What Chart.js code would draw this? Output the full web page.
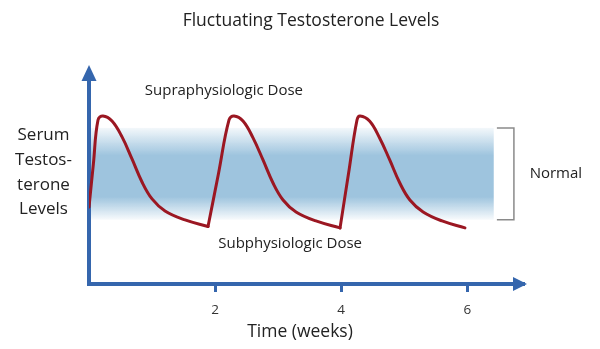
<!DOCTYPE html>
<html>
<head>
<meta charset="utf-8">
<script src="https://cdn.jsdelivr.net/npm/chart.js@4"></script>
<style>
  html, body { margin: 0; padding: 0; background: #fff; }
</style>
</head>
<body>
<canvas id="chart" width="600" height="349"></canvas>
<script>
// serum level over time, one array pair per injection cycle (weeks / arbitrary level)
const cycle1Weeks = [0, 0.07, 0.143, 0.222, 0.365, 0.524, 0.682, 0.841, 1.0, 1.206, 1.523, 1.888];
const cycle1Level = [37.7, 59.0, 80.4, 82.4, 79.9, 72.1, 61.3, 50.0, 41.7, 35.8, 31.4, 28.2];
const cycle2Weeks = [1.888, 2.055, 2.221, 2.3, 2.443, 2.602, 2.76, 2.919, 3.078, 3.284, 3.6, 3.982];
const cycle2Level = [28.2, 54.3, 80.4, 82.4, 79.9, 71.6, 60.8, 49.5, 41.2, 35.3, 30.9, 27.5];
const cycle3Weeks = [3.982, 4.116, 4.251, 4.3, 4.45, 4.61, 4.77, 4.93, 5.09, 5.30, 5.6, 5.964];
const cycle3Level = [27.5, 54.0, 80.4, 82.4, 79.9, 71.6, 60.8, 49.5, 41.2, 35.3, 30.9, 27.5];
const normalRange = [31.5, 76.5];
const xTicks = [2, 4, 6];

const FONT = "'Open Sans', 'Noto Sans', sans-serif";
const AXIS = '#3566ad';
const CURVE = '#9b1722';
const TEXT = '#222';

function pts(xs, ys) {
    return xs.map((x, i) => ({x: x, y: ys[i]}));
}

function cycle(xs, ys) {
    return {
        data: pts(xs, ys),
        borderColor: CURVE,
        borderWidth: 3,
        borderCapStyle: 'round',
        borderJoinStyle: 'round',
        pointRadius: 0,
        tension: 0.4,
        fill: false
    };
}

const extras = {
    id: 'extras',
    beforeDatasetsDraw(chart) {
        const {ctx, chartArea, scales: {x, y}} = chart;
        const top = y.getPixelForValue(normalRange[1]);
        const bot = y.getPixelForValue(normalRange[0]);
        const g = ctx.createLinearGradient(0, top, 0, bot);
        g.addColorStop(0, 'rgba(158,196,222,0.12)');
        g.addColorStop(0.3, 'rgba(158,196,222,1)');
        g.addColorStop(0.75, 'rgba(158,196,222,1)');
        g.addColorStop(1, 'rgba(158,196,222,0.08)');
        ctx.save();
        ctx.fillStyle = g;
        ctx.fillRect(chartArea.left + 2, top, x.getPixelForValue(6.42) - chartArea.left - 2, bot - top);
        ctx.restore();
    },
    afterDraw(chart) {
        const {ctx, chartArea, scales: {x, y}} = chart;
        ctx.save();

        // arrow heads
        ctx.fillStyle = AXIS;
        ctx.beginPath();
        ctx.moveTo(chartArea.left, chartArea.top - 15);
        ctx.lineTo(chartArea.left - 7.5, chartArea.top + 1);
        ctx.lineTo(chartArea.left + 7.5, chartArea.top + 1);
        ctx.closePath();
        ctx.fill();
        ctx.beginPath();
        ctx.moveTo(chartArea.right + 3, chartArea.bottom);
        ctx.lineTo(chartArea.right - 11, chartArea.bottom - 7);
        ctx.lineTo(chartArea.right - 11, chartArea.bottom + 7);
        ctx.closePath();
        ctx.fill();

        // bracket for normal range
        const bx1 = x.getPixelForValue(6.47), bx2 = x.getPixelForValue(6.74);
        const by1 = y.getPixelForValue(normalRange[1]), by2 = y.getPixelForValue(normalRange[0]);
        ctx.strokeStyle = '#8a8a8a';
        ctx.lineWidth = 1.5;
        ctx.beginPath();
        ctx.moveTo(bx1, by1);
        ctx.lineTo(bx2, by1);
        ctx.lineTo(bx2, by2);
        ctx.lineTo(bx1, by2);
        ctx.stroke();

        // labels
        ctx.fillStyle = TEXT;
        ctx.textBaseline = 'middle';
        ctx.textAlign = 'center';
        ctx.font = '17.5px ' + FONT;
        ctx.fillText('Fluctuating Testosterone Levels', 311, 21);
        ctx.font = '17.5px ' + FONT;
        ctx.fillText('Time (weeks)', 300, 332);

        ctx.font = '15px ' + FONT;
        ctx.fillText('Supraphysiologic Dose', x.getPixelForValue(2.14), y.getPixelForValue(94.6));
        ctx.fillText('Subphysiologic Dose', x.getPixelForValue(3.19), y.getPixelForValue(19.6));
        ctx.textAlign = 'left';
        ctx.fillText('Normal', x.getPixelForValue(6.99), y.getPixelForValue(53.9));

        ctx.font = '17px ' + FONT;
        ctx.textAlign = 'center';
        const yl = ['Serum', 'Testos-', 'terone', 'Levels'];
        const yv = [73, 60.8, 48.5, 36.8];
        yl.forEach((t, i) => ctx.fillText(t, chartArea.left / 2 - 1, y.getPixelForValue(yv[i])));
        ctx.restore();
    }
};

new Chart(document.getElementById('chart'), {
    type: 'line',
    data: {
        datasets: [
            cycle(cycle1Weeks, cycle1Level),
            cycle(cycle2Weeks, cycle2Level),
            cycle(cycle3Weeks, cycle3Level)
        ]
    },
    options: {
        responsive: false,
        animation: false,
        layout: {padding: {top: 80, right: 76, bottom: 0, left: 0}},
        plugins: {
            legend: {display: false},
            tooltip: {enabled: false}
        },
        scales: {
            x: {
                type: 'linear',
                min: 0,
                max: 6.9,
                afterBuildTicks: s => { s.ticks = xTicks.map(v => ({value: v})); },
                afterFit: s => { s.height = 65; },
                grid: {display: true, drawOnChartArea: false, drawTicks: true, tickLength: 8, tickWidth: 3, tickColor: AXIS},
                border: {display: true, color: AXIS, width: 4},
                ticks: {padding: 10, color: '#333', font: {family: FONT, size: 13.5}, autoSkip: false, maxRotation: 0}
            },
            y: {
                min: 0,
                max: 100,
                afterFit: s => { s.width = 89; },
                grid: {display: false},
                border: {display: true, color: AXIS, width: 4},
                ticks: {display: false}
            }
        }
    },
    plugins: [extras]
});
</script>
</body>
</html>
